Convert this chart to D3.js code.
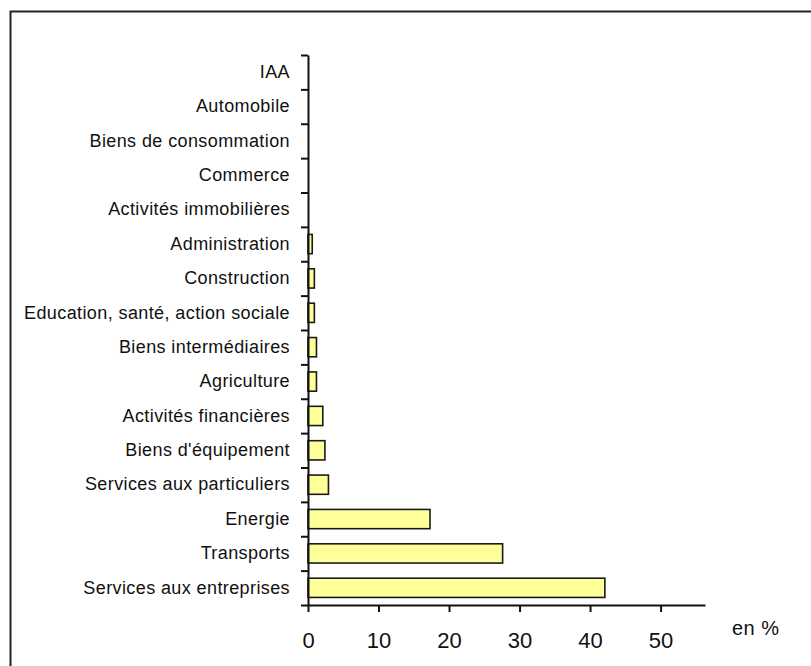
<!DOCTYPE html>
<html>
<head>
<meta charset="utf-8">
<script src="https://cdn.jsdelivr.net/npm/d3@7"></script>
<style>
  body { margin: 0; background: #fff; }
  svg text { font-family: "Liberation Sans", Arial, sans-serif; fill: #111; }
</style>
</head>
<body>
<script>
// categories from top to bottom, values in %
const sectors = [
  "IAA",
  "Automobile",
  "Biens de consommation",
  "Commerce",
  "Activités immobilières",
  "Administration",
  "Construction",
  "Education, santé, action sociale",
  "Biens intermédiaires",
  "Agriculture",
  "Activités financières",
  "Biens d'équipement",
  "Services aux particuliers",
  "Energie",
  "Transports",
  "Services aux entreprises"
]
const shares = [0, 0, 0, 0, 0, 0.6, 0.9, 0.9, 1.2, 1.2, 2.1, 2.4, 2.9, 17.3, 27.6, 42.1]
const xTicks = [0, 10, 20, 30, 40, 50]
const unitLabel = "en %"

const data = sectors.map((s, i) => ({ sector: s, value: shares[i] }))

//------------------------------------------------------------------------------

const plotLeft = 308, plotRight = 705, plotTop = 55, plotBottom = 605

const svg = d3.select("body")
    .append("svg")
    .attr("width", 811)
    .attr("height", 666)

// frame, runs off the right and bottom edges
svg.append("rect")
    .attr("x", 10.5)
    .attr("y", 11.5)
    .attr("width", 900)
    .attr("height", 900)
    .attr("fill", "none")
    .attr("stroke", "#222")
    .attr("stroke-width", 2)

let x = d3.scaleLinear()
    .domain([0, 56.3])
    .range([plotLeft, plotRight])

let y = d3.scaleBand()
    .domain(sectors)
    .range([plotTop, plotBottom])

let yEdges = d3.scaleLinear()
    .domain([0, sectors.length])
    .range([plotTop, plotBottom])

//------------------------------------------------------------------------------

// bars
svg.append("g")
    .selectAll("rect")
    .data(data.filter(d => d.value > 0))
    .join("rect")
    .attr("x", x(0))
    .attr("y", d => y(d.sector) + y.bandwidth() * 0.22)
    .attr("width", d => x(d.value) - x(0))
    .attr("height", y.bandwidth() * 0.56)
    .attr("fill", "#ffff99")
    .attr("stroke", "#1a1a1a")
    .attr("stroke-width", 1.6)

// y axis: ticks between the bands
svg.append("g")
    .attr("transform", "translate(" + plotLeft + ",0)")
    .call(d3.axisLeft(yEdges).tickValues(d3.range(sectors.length + 1)).tickFormat("").tickSize(7).tickSizeOuter(0))
    .call(g => g.selectAll("line, path").attr("stroke", "#111").attr("stroke-width", 2))

// y labels
svg.append("g")
    .attr("transform", "translate(" + plotLeft + ",0)")
    .call(d3.axisLeft(y).tickSize(0).tickPadding(18))
    .call(g => g.select(".domain").remove())
    .call(g => g.selectAll("text").style("font-size", "18px").style("letter-spacing", "0.4px"))

// x axis
svg.append("g")
    .attr("transform", "translate(0," + plotBottom + ")")
    .call(d3.axisBottom(x).tickValues(xTicks).tickSize(7).tickSizeOuter(0).tickPadding(20))
    .call(g => g.selectAll("line, path").attr("stroke", "#111").attr("stroke-width", 2))
    .call(g => g.selectAll("text").style("font-size", "22px"))

svg.append("text")
    .attr("x", 732)
    .attr("y", 635)
    .style("font-size", "20px")
    .style("letter-spacing", "0.5px")
    .text(unitLabel)
</script>
</body>
</html>
